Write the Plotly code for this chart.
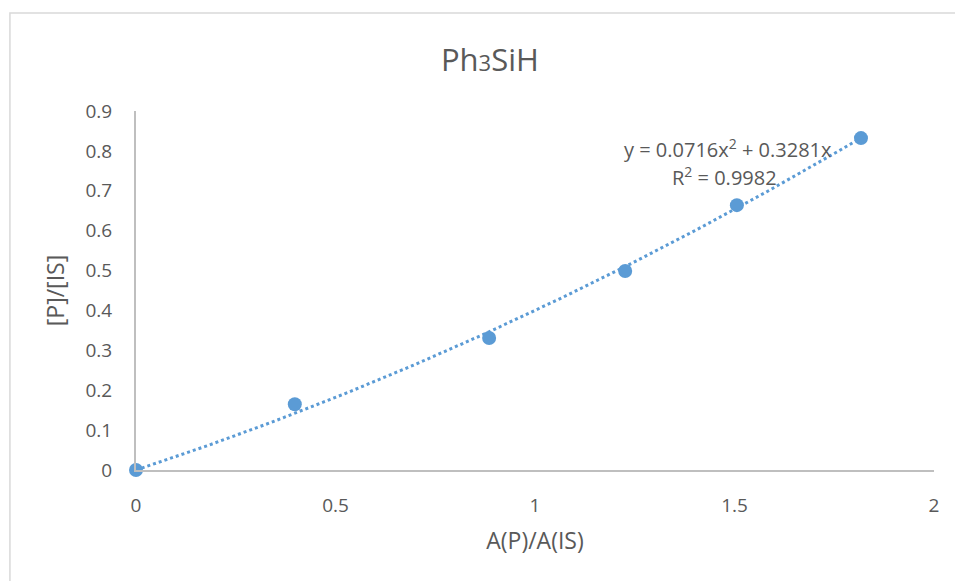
import plotly.graph_objects as go
import numpy as np

# data
ratio_area = [0, 0.398, 0.885, 1.226, 1.506, 1.817]
ratio_conc = [0, 0.165, 0.331, 0.499, 0.664, 0.832]

# trendline from the label: y = a*x^2 + b*x
trend_coef = [0.0716, 0.3281]
eq_label = "y = 0.0716x<sup>2</sup> + 0.3281x"
r2_label = "R<sup>2</sup> = 0.9982"

x_ticks = [0, 0.5, 1, 1.5, 2]
y_ticks = [0, 0.1, 0.2, 0.3, 0.4, 0.5, 0.6, 0.7, 0.8, 0.9]

blue = "#5b9bd5"
grey_text = "#595959"
font = "Open Sans"

xt = np.linspace(0, max(ratio_area), 200)
yt = trend_coef[0] * xt ** 2 + trend_coef[1] * xt

fig = go.Figure()

fig.add_trace(go.Scatter(x=xt, y=yt, mode="lines",
                         line=dict(color=blue, width=3, dash="dot"),
                         hoverinfo="skip", showlegend=False, cliponaxis=False))
fig.add_trace(go.Scatter(x=ratio_area, y=ratio_conc, mode="markers",
                         marker=dict(color=blue, size=14), showlegend=False, cliponaxis=False))

# trendline label, two lines
fig.add_annotation(x=1.484, y=0.805, xref="x", yref="y", text=eq_label,
                   showarrow=False, font=dict(family=font, size=20, color=grey_text))
fig.add_annotation(x=1.476, y=0.737, xref="x", yref="y", text=r2_label,
                   showarrow=False, font=dict(family=font, size=20, color=grey_text))

# outer chart frame
fig.add_shape(type="rect", xref="paper", yref="paper",
              x0=-0.158, x1=1.2, y0=-0.6, y1=1.273,
              line=dict(color="#d9d9d9", width=1.5), fillcolor="rgba(0,0,0,0)", layer="below")

fig.update_layout(
    width=955, height=581,
    margin=dict(l=136, r=21, t=111, b=111),
    paper_bgcolor="white", plot_bgcolor="white",
    font=dict(family=font, color=grey_text, size=18),
    title=dict(text="Ph<span style='font-size:22px'>3</span>SiH", x=0.513, xanchor="center",
               y=0.897, yanchor="middle", font=dict(family=font, size=31, color=grey_text)),
)

fig.update_xaxes(range=[0, 2], tickvals=x_ticks, ticktext=[f"{v:g}" for v in x_ticks],
                 showgrid=False, zeroline=False, showline=True, linecolor="#bfbfbf", linewidth=2,
                 ticks="", ticklabelstandoff=17, tickfont=dict(size=19, color=grey_text),
                 title=dict(text="A(P)/A(IS)", standoff=16, font=dict(size=23, color=grey_text)))
fig.update_yaxes(range=[0, 0.9], tickvals=y_ticks, ticktext=[f"{v:g}" for v in y_ticks],
                 showgrid=False, zeroline=False, showline=True, linecolor="#bfbfbf", linewidth=2,
                 ticks="", ticklabelstandoff=18, tickfont=dict(size=19, color=grey_text),
                 title=dict(text="[P]/[IS]", standoff=14, font=dict(size=23, color=grey_text)))

fig.write_html("out.html", config={"displayModeBar": False},
               post_script="document.body.style.margin='0';")
